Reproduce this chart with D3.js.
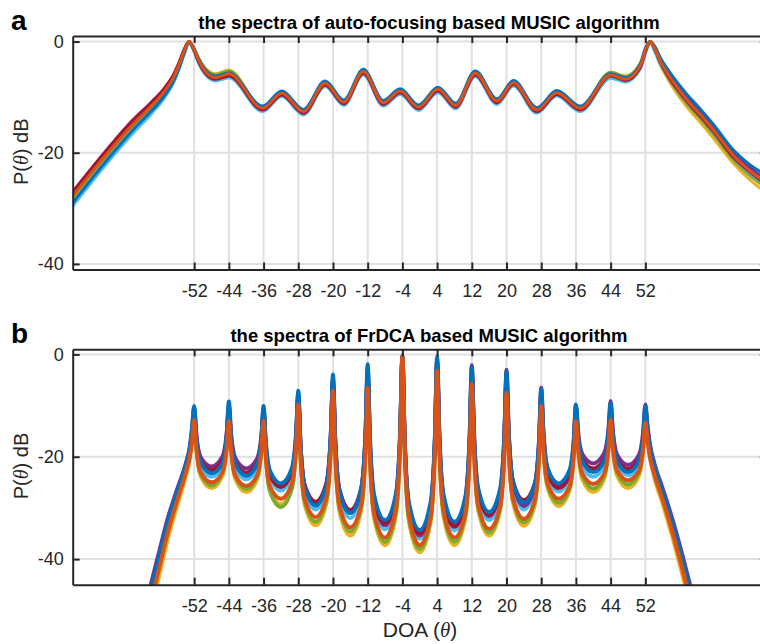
<!DOCTYPE html>
<html>
<head>
<meta charset="utf-8">
<script src="https://cdn.jsdelivr.net/npm/d3@7"></script>
<style>
  body { margin: 0; background: #fff; }
  svg { display: block; font-family: "Liberation Sans", Arial, Helvetica, sans-serif; }
</style>
</head>
<body>
<svg id="chart" width="760" height="644"></svg>
<script>
// ---- tick values (shared) ----
const doaTicks = [-52, -44, -36, -28, -20, -12, -4, 4, 12, 20, 28, 36, 44, 52];
const dbTicks = [0, -20, -40];

// ---- panel a: auto-focusing MUSIC (dB) ----
const thetaA = [-80, -72, -66, -62, -59, -57, -55.5, -54.3, -53.2, -52.2, -51, -49.5, -47, -44,
  -36.2, -31.8, -26.8, -21.8, -17.5, -13, -8.4, -4.5, -0.3, 4.2, 8.3, 12.8, 17.8, 21.6, 27, 31.6, 37,
  44, 47.4, 50.8, 52.2, 53.1, 54.2, 55.5, 57, 59, 61.6, 64.5, 67.7, 72.3, 76, 80];
const aOrange = [-27.8, -20.1, -14.8, -11.7, -9.1, -6.8, -4.2, -1.7, 0, -1.1, -3.3, -5.3, -6.5, -5.8,
  -12.0, -9.3, -12.6, -7.5, -10.9, -5.4, -11.0, -8.9, -11.8, -8.6, -11.5, -5.7, -10.7, -7.4, -12.3, -9.2, -12.0,
  -6.0, -6.8, -4.4, -1.2, 0, -1.3, -3.6, -5.6, -7.9, -10.5, -13.0, -15.9, -20.5, -23.2, -25.5];
const aBlue = [-29.0, -21.2, -15.8, -12.6, -9.9, -7.5, -4.8, -2.1, -0.1, -1.0, -3.1, -5.0, -6.2, -5.6,
  -11.6, -8.9, -12.2, -7.1, -10.5, -5.0, -10.6, -8.5, -11.4, -8.2, -11.1, -5.3, -10.3, -7.0, -11.9, -8.8, -11.6,
  -5.8, -6.5, -4.1, -0.9, 0, -0.9, -3.0, -4.8, -7.0, -9.5, -12.0, -14.9, -19.5, -22.1, -24.1];
const aLightBlue = [-29.6, -21.8, -16.4, -13.1, -10.3, -7.8, -5.0, -2.3, -0.3, -1.5, -3.9, -5.9, -7.1, -6.5,
  -12.6, -9.9, -13.2, -8.1, -11.5, -6.0, -11.6, -9.5, -12.4, -9.2, -12.1, -6.3, -11.3, -8.0, -12.9, -9.8, -12.6,
  -6.6, -7.3, -5.0, -1.8, -0.2, -1.8, -4.1, -6.0, -8.3, -10.9, -13.4, -16.3, -20.9, -23.6, -25.9];
const aYellow = [-28.2, -20.5, -15.1, -12.0, -9.4, -7.1, -4.5, -2.0, -0.4, -1.2, -3.0, -4.7, -5.8, -5.1,
  -12.1, -9.5, -12.8, -7.8, -11.1, -5.7, -11.2, -9.2, -12.0, -8.9, -11.7, -6.0, -11.0, -7.7, -12.6, -9.5, -12.3,
  -5.5, -6.2, -3.9, -1.2, -0.3, -1.8, -4.3, -6.5, -9.0, -11.8, -14.4, -17.4, -21.9, -24.8, -27.3];
const aDarkRed = [-27.0, -19.3, -14.0, -11.0, -8.5, -6.3, -3.8, -1.4, 0, -1.3, -3.6, -5.6, -6.8, -6.2,
  -12.3, -9.6, -12.9, -7.8, -11.2, -5.7, -11.3, -9.2, -12.1, -8.9, -11.8, -6.0, -11.0, -7.7, -12.6, -9.5, -12.3,
  -6.2, -7.0, -4.7, -1.4, 0, -1.4, -3.8, -5.9, -8.2, -10.8, -13.3, -16.2, -20.8, -23.4, -25.8];
const aPurple = [-27.4, -19.7, -14.4, -11.3, -8.8, -6.5, -4.0, -1.5, 0, -1.0, -3.2, -5.2, -6.3, -5.8,
  -11.9, -9.2, -12.5, -7.4, -10.8, -5.3, -10.9, -8.8, -11.7, -8.5, -11.4, -5.6, -10.6, -7.3, -12.2, -9.1, -11.9,
  -5.9, -6.6, -4.3, -1.0, -0.1, -1.0, -3.1, -5.1, -7.3, -9.9, -12.4, -15.3, -19.9, -22.6, -24.9];
const aGreen = [-28.0, -20.3, -15.0, -11.9, -9.3, -7.0, -4.4, -1.9, -0.1, -1.1, -3.0, -4.9, -6.0, -5.3,
  -11.8, -9.1, -12.4, -7.3, -10.7, -5.2, -10.8, -8.7, -11.6, -8.4, -11.3, -5.5, -10.5, -7.2, -12.1, -9.0, -11.8,
  -5.5, -6.3, -4.1, -1.2, -0.1, -1.6, -4.1, -6.1, -8.5, -11.2, -13.7, -16.7, -21.3, -24.0, -26.4];

// ---- panel b: FrDCA MUSIC (dB) ----
const thetaB = [-64, -62, -60, -58, -56, -54, -53, -52.5,
  -52, -51.5, -50.5, -48, -45.5, -44.5,
  -44, -43.5, -42.5, -40, -37.5, -36.5,
  -36, -35.5, -34.5, -32, -29.5, -28.5,
  -28, -27.5, -26.5, -24, -21.5, -20.5,
  -20, -19.5, -18.5, -16, -13.5, -12.5,
  -12, -11.5, -10.5, -8, -5.5, -4.5,
  -4, -3.5, -2.5, 0, 2.5, 3.5,
  4, 4.5, 5.5, 8, 10.5, 11.5,
  12, 12.5, 13.5, 16, 18.5, 19.5,
  20, 20.5, 21.5, 24, 26.5, 27.5,
  28, 28.5, 29.5, 32, 34.5, 35.5,
  36, 36.5, 37.5, 40, 42.5, 43.5,
  44, 44.5, 45.5, 48, 50.5, 51.5,
  52, 52.5, 53, 54, 56, 58, 60, 62, 64];
const bOrange = [-55.0, -48.5, -41.5, -34.5, -28.8, -23.2, -19.8, -17.0,
  -12.8, -18.3, -23.0, -25.0, -23.1, -18.4,
  -13.0, -18.7, -23.7, -25.7, -23.7, -18.7,
  -13.0, -19.8, -25.8, -28.2, -25.3, -18.1,
  -9.8, -19.7, -28.3, -31.8, -27.9, -18.2,
  -7.1, -19.1, -29.5, -33.8, -29.4, -18.8,
  -6.5, -19.7, -31.1, -35.8, -30.1, -16.2,
  -0.2, -16.9, -31.4, -37.3, -31.8, -18.5,
  -3.2, -17.9, -30.6, -35.8, -31.0, -19.3,
  -5.8, -18.5, -29.6, -34.1, -29.8, -19.5,
  -7.5, -18.6, -28.2, -32.1, -28.6, -20.0,
  -10.1, -18.2, -25.3, -28.2, -25.8, -19.8,
  -13.0, -18.5, -23.3, -25.3, -23.3, -18.4,
  -12.7, -18.1, -22.7, -24.6, -22.8, -18.4,
  -13.3, -16.8, -19.8, -23.2, -28.4, -34.0, -40.2, -46.8, -53.3];
const bBlue = [-52.5, -46.0, -39.2, -32.5, -27.0, -21.8, -18.3, -14.5,
  -10.1, -16.0, -21.1, -23.2, -21.4, -15.7,
  -9.2, -15.7, -21.4, -23.7, -21.5, -16.2,
  -10.1, -16.9, -22.8, -25.2, -22.3, -15.2,
  -7.1, -17.2, -25.9, -29.5, -25.4, -15.4,
  -3.9, -16.1, -26.7, -31.0, -26.3, -15.0,
  -1.9, -15.6, -27.5, -32.4, -27.3, -14.7,
  -0.3, -15.6, -28.9, -34.3, -28.9, -15.7,
  -0.4, -14.9, -27.5, -32.7, -27.9, -16.1,
  -2.5, -15.2, -26.3, -30.8, -26.4, -15.7,
  -3.4, -14.9, -24.9, -29.0, -25.4, -16.8,
  -6.8, -15.1, -22.3, -25.2, -22.7, -16.7,
  -9.8, -15.7, -20.9, -23.0, -20.9, -15.6,
  -9.6, -15.6, -20.9, -23.0, -20.9, -15.9,
  -10.1, -14.5, -17.8, -21.6, -26.8, -32.2, -38.3, -44.8, -51.3];
const bPurple = [-51.5, -45.0, -38.3, -31.8, -26.5, -21.5, -18.0, -14.6,
  -10.4, -15.6, -20.1, -21.9, -20.0, -15.4,
  -10.0, -15.5, -20.3, -22.3, -20.4, -15.9,
  -10.7, -17.4, -23.2, -25.6, -22.7, -15.8,
  -7.7, -17.4, -25.8, -29.2, -25.3, -15.7,
  -4.7, -16.5, -26.8, -31.0, -26.5, -15.4,
  -2.7, -16.5, -28.5, -33.4, -28.1, -15.3,
  -0.5, -16.2, -29.8, -35.4, -29.9, -16.5,
  -1.0, -15.5, -28.1, -33.3, -28.3, -16.1,
  -2.1, -15.4, -26.9, -31.6, -27.0, -15.9,
  -3.0, -15.0, -25.3, -29.6, -25.9, -16.9,
  -6.5, -15.1, -22.6, -25.7, -23.2, -17.1,
  -10.0, -15.1, -19.5, -21.3, -19.3, -14.6,
  -9.1, -14.7, -19.6, -21.6, -19.7, -15.1,
  -9.8, -13.8, -17.2, -21.0, -26.2, -31.5, -37.5, -44.0, -50.5];
const bLightBlue = [-53.0, -46.6, -39.8, -33.0, -27.5, -22.3, -19.0, -15.5,
  -11.0, -16.8, -21.8, -23.9, -21.8, -16.5,
  -10.5, -16.8, -22.2, -24.4, -22.3, -17.0,
  -11.0, -18.0, -24.1, -26.6, -23.6, -16.4,
  -8.0, -18.0, -26.7, -30.3, -26.3, -16.4,
  -5.0, -17.2, -27.7, -32.0, -27.4, -16.3,
  -3.5, -17.3, -29.3, -34.2, -28.8, -15.7,
  -0.5, -16.5, -30.3, -36.0, -30.4, -16.9,
  -1.2, -16.1, -29.1, -34.4, -29.4, -17.2,
  -3.2, -16.3, -27.7, -32.4, -27.9, -16.9,
  -4.2, -15.9, -26.1, -30.3, -26.7, -17.8,
  -7.5, -16.2, -23.7, -26.8, -24.2, -17.8,
  -10.5, -16.5, -21.8, -23.9, -21.7, -16.4,
  -10.2, -16.2, -21.5, -23.6, -21.6, -16.6,
  -10.8, -15.0, -18.3, -22.0, -27.2, -32.6, -38.7, -45.2, -51.7];
const bGreen = [-54.0, -47.6, -40.8, -34.0, -28.3, -23.0, -19.8, -16.2,
  -11.5, -17.8, -23.3, -25.6, -23.1, -17.1,
  -10.2, -17.4, -23.7, -26.3, -23.8, -17.8,
  -10.8, -19.4, -26.8, -29.8, -26.3, -17.8,
  -7.9, -19.1, -28.7, -32.7, -28.3, -17.6,
  -5.2, -18.4, -29.9, -34.6, -29.7, -17.7,
  -3.9, -18.6, -31.4, -36.6, -30.8, -16.8,
  -0.6, -17.4, -32.0, -38.0, -32.2, -17.9,
  -1.5, -17.3, -31.0, -36.6, -31.4, -18.6,
  -3.8, -17.8, -29.8, -34.8, -30.0, -18.3,
  -4.8, -17.4, -28.3, -32.8, -28.8, -19.2,
  -8.0, -17.5, -25.6, -29.0, -26.1, -19.0,
  -10.8, -17.7, -23.7, -26.2, -23.7, -17.6,
  -10.5, -17.2, -23.0, -25.4, -23.1, -17.6,
  -11.3, -15.5, -18.8, -22.6, -27.9, -33.4, -39.5, -46.0, -52.5];
const bDarkRed = [-53.5, -47.0, -40.2, -33.4, -27.8, -22.6, -19.5, -16.2,
  -11.8, -16.7, -20.9, -22.6, -20.8, -16.3,
  -11.2, -16.6, -21.2, -23.1, -21.3, -16.8,
  -11.6, -18.0, -23.6, -25.9, -23.2, -16.5,
  -8.8, -17.8, -25.6, -28.8, -25.1, -16.1,
  -5.7, -16.8, -26.4, -30.4, -26.2, -16.1,
  -4.4, -17.3, -28.4, -33.0, -27.8, -15.1,
  -0.4, -16.0, -29.5, -35.0, -29.7, -16.7,
  -1.8, -16.2, -28.6, -33.7, -29.0, -17.5,
  -4.2, -16.4, -27.0, -31.3, -27.1, -16.9,
  -5.2, -15.7, -24.8, -28.5, -25.3, -17.7,
  -8.8, -16.6, -23.3, -26.1, -23.8, -18.1,
  -11.5, -16.4, -20.6, -22.3, -20.5, -16.1,
  -11.0, -16.1, -20.6, -22.4, -20.7, -16.5,
  -11.6, -15.6, -18.8, -22.4, -27.6, -33.0, -39.1, -45.6, -52.1];
const bYellow = [-56.5, -50.0, -43.0, -35.8, -29.8, -24.0, -20.5, -17.0,
  -12.0, -18.3, -23.8, -26.1, -23.8, -18.1,
  -11.5, -18.4, -24.4, -26.9, -24.5, -18.7,
  -12.0, -19.8, -26.5, -29.3, -26.0, -17.9,
  -8.6, -19.8, -29.4, -33.4, -29.0, -18.3,
  -6.0, -19.2, -30.7, -35.4, -30.5, -18.6,
  -4.8, -19.4, -32.1, -37.3, -31.5, -17.2,
  -0.8, -17.9, -32.6, -38.7, -32.8, -18.5,
  -2.0, -17.9, -31.7, -37.3, -32.1, -19.3,
  -4.5, -18.4, -30.5, -35.4, -30.6, -19.0,
  -5.6, -18.2, -29.0, -33.5, -29.5, -19.8,
  -8.6, -18.1, -26.2, -29.6, -26.7, -19.7,
  -11.6, -18.5, -24.5, -26.9, -24.4, -18.3,
  -11.3, -18.0, -23.7, -26.1, -23.8, -18.3,
  -12.0, -16.3, -19.8, -23.8, -29.2, -35.0, -41.3, -48.0, -54.5];

// MATLAB default line colours
const colors = {
  blue: '#0072BD', orange: '#D95319', yellow: '#EDB120', purple: '#7E2F8E',
  green: '#77AC30', lightBlue: '#4DBEEE', darkRed: '#A2142F'
};

class SpectrumPanel {

  constructor(_config, _theta, _series) {
    this.config = {
      parentElement: _config.parentElement,
      id: _config.id,
      left: 72.7,
      right: 766.8,
      top: _config.top,
      bottom: _config.bottom,
      yDomain: _config.yDomain,
      title: _config.title,
      tag: _config.tag,
      lineWidth: _config.lineWidth,
      xLabel: _config.xLabel
    };
    this.theta = _theta;
    this.series = _series;
    this.initVis();
  }

  initVis() {
    let vis = this;
    const c = vis.config;

    vis.svg = d3.select(c.parentElement);
    vis.g = vis.svg.append('g');

    vis.xScale = d3.scaleLinear().domain([-80, 80]).range([c.left, c.right]);
    vis.yScale = d3.scaleLinear().domain(c.yDomain).range([c.bottom, c.top]);

    vis.svg.append('clipPath').attr('id', 'clip-' + c.id)
      .append('rect')
      .attr('x', c.left).attr('y', c.top)
      .attr('width', c.right - c.left).attr('height', c.bottom - c.top);

    vis.renderVis();
  }

  renderVis() {
    let vis = this;
    const c = vis.config;

    // grid
    const grid = vis.g.append('g').attr('stroke', '#e0e0e0').attr('stroke-width', 2);
    grid.selectAll('.vgrid').data(doaTicks).join('line')
      .attr('x1', d => vis.xScale(d)).attr('x2', d => vis.xScale(d))
      .attr('y1', c.top).attr('y2', c.bottom);
    grid.selectAll('.hgrid').data(dbTicks).join('line')
      .attr('x1', c.left).attr('x2', c.right)
      .attr('y1', d => vis.yScale(d)).attr('y2', d => vis.yScale(d));

    // spectra
    const line = d3.line()
      .x((d, i) => vis.xScale(vis.theta[i]))
      .y(d => vis.yScale(d))
      .curve(d3.curveMonotoneX);

    vis.g.append('g')
      .attr('clip-path', `url(#clip-${c.id})`)
      .selectAll('path')
      .data(vis.series)
      .join('path')
      .attr('d', d => line(d.values))
      .attr('fill', 'none')
      .attr('stroke', d => d.color)
      .attr('stroke-width', c.lineWidth)
      .attr('stroke-linejoin', 'round');

    // axes (ticks point inward, MATLAB style)
    const xBottom = d3.axisBottom(vis.xScale).tickValues(doaTicks).tickFormat(d => String(d))
      .tickSizeInner(-7).tickSizeOuter(0).tickPadding(15);
    const xTop = d3.axisTop(vis.xScale).tickValues(doaTicks).tickFormat('')
      .tickSizeInner(-7).tickSizeOuter(0);
    const yLeft = d3.axisLeft(vis.yScale).tickValues(dbTicks).tickFormat(d => String(d))
      .tickSizeInner(-7).tickSizeOuter(0).tickPadding(9);
    const yRight = d3.axisRight(vis.yScale).tickValues(dbTicks).tickFormat('')
      .tickSizeInner(-7).tickSizeOuter(0);

    const axes = [
      vis.g.append('g').attr('transform', `translate(0,${c.bottom})`).call(xBottom),
      vis.g.append('g').attr('transform', `translate(0,${c.top})`).call(xTop),
      vis.g.append('g').attr('transform', `translate(${c.left},0)`).call(yLeft),
      vis.g.append('g').attr('transform', `translate(${c.right},0)`).call(yRight)
    ];
    axes.forEach(a => {
      a.attr('font-family', null).attr('font-size', null);
      a.select('.domain').attr('stroke', '#262626').attr('stroke-width', 2);
      a.selectAll('.tick line').attr('stroke', '#262626').attr('stroke-width', 2);
      a.selectAll('.tick text').attr('fill', '#262626').style('font-size', '18px');
    });

    // title + panel tag
    vis.g.append('text')
      .attr('x', 429).attr('y', c.top - 7.5)
      .attr('text-anchor', 'middle')
      .style('font-size', '18.5px').style('font-weight', 'bold')
      .attr('fill', '#000')
      .text(c.title);

    vis.g.append('text')
      .attr('x', 11).attr('y', c.top - 6)
      .style('font-size', '28px').style('font-weight', 'bold')
      .attr('fill', '#000')
      .text(c.tag);

    // y label
    const yl = vis.g.append('text')
      .attr('transform', `translate(28,${(c.top + c.bottom) / 2 - 1}) rotate(-90)`)
      .attr('text-anchor', 'middle')
      .attr('fill', '#262626')
      .style('font-size', '20px');
    yl.append('tspan').text('P(');
    yl.append('tspan').style('font-family', '"Liberation Serif", "DejaVu Serif", serif')
      .style('font-style', 'italic').text('θ');
    yl.append('tspan').text(') dB');

    if (c.xLabel) {
      const xl = vis.g.append('text')
        .attr('x', 420).attr('y', 637)
        .attr('text-anchor', 'middle')
        .attr('fill', '#262626')
        .style('font-size', '21px');
      xl.append('tspan').text('DOA (');
      xl.append('tspan').style('font-family', '"Liberation Serif", "DejaVu Serif", serif')
        .style('font-style', 'italic').text('θ');
      xl.append('tspan').text(')');
    }
  }
}

const drawOrder = ['yellow', 'green', 'lightBlue', 'purple', 'darkRed', 'blue', 'orange'];
const seriesA = {
  yellow: aYellow, green: aGreen, lightBlue: aLightBlue, purple: aPurple,
  darkRed: aDarkRed, blue: aBlue, orange: aOrange
};
const seriesB = {
  yellow: bYellow, green: bGreen, lightBlue: bLightBlue, purple: bPurple,
  darkRed: bDarkRed, blue: bBlue, orange: bOrange
};

new SpectrumPanel({
  parentElement: '#chart', id: 'a', top: 36, bottom: 269.5, yDomain: [-41, 1],
  title: 'the spectra of auto-focusing based MUSIC algorithm', tag: 'a', lineWidth: 3.0
}, thetaA, drawOrder.map(k => ({ name: k, color: colors[k], values: seriesA[k] })));

new SpectrumPanel({
  parentElement: '#chart', id: 'b', top: 349.3, bottom: 584.7, yDomain: [-45, 1],
  title: 'the spectra of FrDCA based MUSIC algorithm', tag: 'b', lineWidth: 4.0, xLabel: true
}, thetaB, drawOrder.map(k => ({ name: k, color: colors[k], values: seriesB[k] })));
</script>
</body>
</html>
